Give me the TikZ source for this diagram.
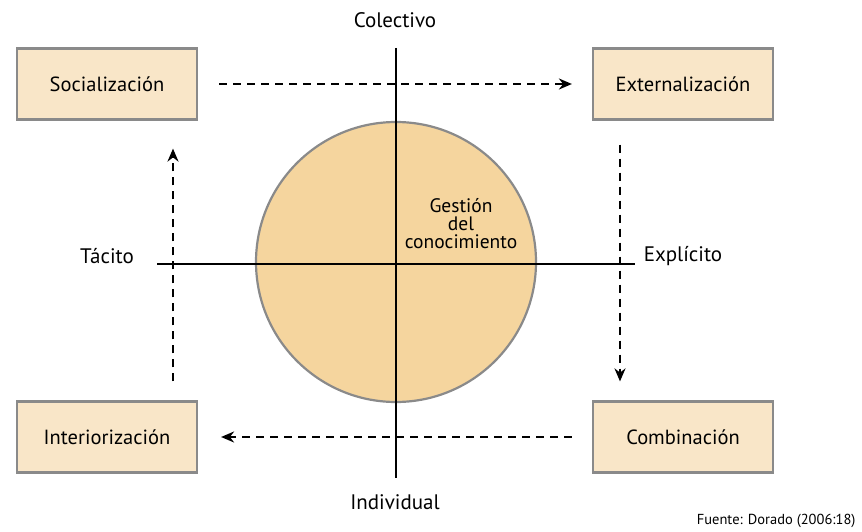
\documentclass[tikz,border=0pt]{standalone}
\usepackage{fontspec}
\setmainfont{PT Sans}
\usetikzlibrary{arrows.meta}
\definecolor{boxfill}{HTML}{F9E6C8}
\definecolor{circfill}{HTML}{F5D59E}
\definecolor{edgegray}{HTML}{8A8A8A}
\begin{document}
\begin{tikzpicture}[x=1pt,y=-1pt,
  quad/.style={draw=edgegray,line width=2.2pt,fill=boxfill,minimum width=180pt,minimum height=71pt,inner sep=0pt,font=\fontsize{20.5}{24}\selectfont},
  axis/.style={line width=2pt},
  flow/.style={line width=2pt,dash pattern=on 8pt off 6pt,-{Stealth[length=13pt,width=11pt]}},
  lbl/.style={font=\fontsize{21}{24}\selectfont}]
\useasboundingbox (0,0) rectangle (862,532);
% knowledge circle
\node[circle,draw=edgegray,line width=2.2pt,fill=circfill,minimum size=280pt,inner sep=0pt] (kc) at (396,262) {};
% axes
\coordinate (axT) at (396,48);
\coordinate (axB) at (396,478);
\coordinate (axL) at (157,264);
\coordinate (axR) at (635,264);
\draw[axis] (axT) -- (axB);
\draw[axis] (axL) -- (axR);
\node[font=\fontsize{19.5}{18}\selectfont,align=center] (gc) at (461,224) {Gestión\\del\\conocimiento};
% four modes
\node[quad] (soc) at (107,84) {Socialización};
\node[quad] (ext) at (683,84) {Externalización};
\node[quad] (int) at (107,437) {Interiorización};
\node[quad] (com) at (683,437) {Combinación};
% axis labels
\node[lbl] (col) at (395,20) {Colectivo};
\node[lbl] (ind) at (395,502) {Individual};
\node[lbl] (tac) at (107,256) {Tácito};
\node[lbl] (exp) at (683,256) {Explícito};
\node[font=\fontsize{14.5}{16}\selectfont,anchor=east] (src) at (859,521) {Fuente: Dorado (2006:18)};
% cycle arrows
\draw[flow] ([xshift=21pt]soc.east) -- ([xshift=-20pt]ext.west);
\draw[flow] ([yshift=-24pt,xshift=-63pt]ext.south) -- ([yshift=19pt,xshift=-63pt]com.north);
\draw[flow] ([xshift=-20pt]com.west) -- ([xshift=23pt]int.east);
\draw[flow] ([yshift=19pt,xshift=66pt]int.north) -- ([yshift=-28pt,xshift=66pt]soc.south);
\end{tikzpicture}
\end{document}
